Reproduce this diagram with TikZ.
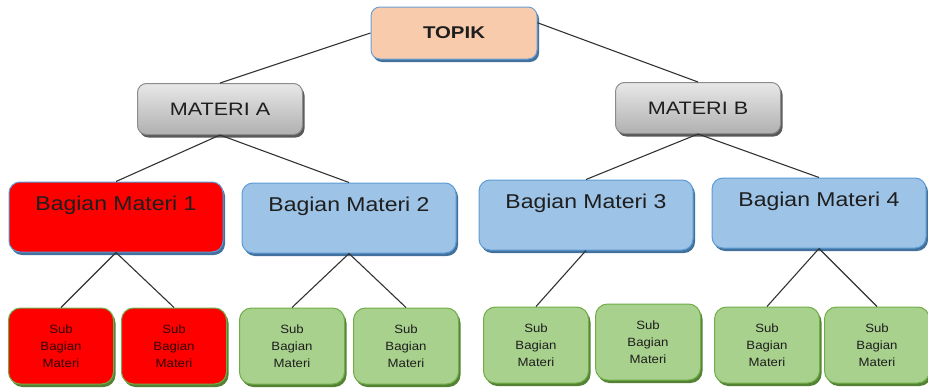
\documentclass[tikz,border=0pt]{standalone}
\usepackage{fontspec}
\setmainfont{Liberation Sans}
\usetikzlibrary{shadows}
\definecolor{topikfill}{HTML}{F8CBAD}
\definecolor{topikline}{HTML}{6E9FD3}
\definecolor{grayline}{HTML}{8C8C8C}
\definecolor{bluefill}{HTML}{9DC3E6}
\definecolor{blueline}{HTML}{5B9BD5}
\definecolor{blueshadow}{HTML}{41719C}
\definecolor{greenfill}{HTML}{A9D18E}
\definecolor{greenline}{HTML}{70AD47}
\definecolor{greenshadow}{HTML}{548235}
\definecolor{redfill}{HTML}{FF0000}
\definecolor{txt}{HTML}{1E1E1E}
\newcommand{\hs}[2][1.15]{\scalebox{#1}[1]{#2}}
\begin{document}
\begin{tikzpicture}[x=1pt,y=-1pt,
  box/.style={rectangle, rounded corners=9pt, line width=1pt, inner sep=0pt, text=txt},
  topbox/.style={box, fill=topikfill, draw=topikline, minimum width=166pt, minimum height=52pt,
     general shadow={shadow xshift=2pt, shadow yshift=-3pt, fill=blueshadow},
     font=\fontsize{17}{20}\selectfont\bfseries},
  matbox/.style={box, top color=gray!18, bottom color=gray!62, draw=grayline, minimum width=165pt, minimum height=51pt,
     general shadow={shadow xshift=2pt, shadow yshift=-3pt, fill=gray!70!black},
     font=\fontsize{18}{20}\selectfont},
  bagbox/.style={box, rounded corners=11pt, fill=bluefill, draw=blueline, minimum width=214pt, minimum height=70pt,
     text height=28pt, text depth=42pt,
     general shadow={shadow xshift=2pt, shadow yshift=-3pt, fill=blueshadow},
     font=\fontsize{20}{22}\selectfont},
  subbox/.style={box, rounded corners=12pt, fill=greenfill, draw=greenline, minimum width=105pt, minimum height=76pt,
     align=center,
     general shadow={shadow xshift=2pt, shadow yshift=-3pt, fill=greenshadow},
     font=\fontsize{12}{17}\selectfont},
  redbag/.style={fill=redfill},
  redsub/.style={fill=redfill, text=black!80!red},
  link/.style={draw=black!80, line width=1.1pt}
]
\useasboundingbox (0,0) rectangle (928,391);
% level 0
\node[topbox] (topik) at (454,33) {\hs[1.2]{TOPIK}};
% level 1
\node[matbox] (ma) at (220,109) {\hs[1.2]{MATERI A}\hspace{10pt}};
\node[matbox] (mb) at (698,108) {\hs[1.2]{MATERI B}\hspace{10pt}};
% level 2
\node[bagbox, redbag] (b1) at (116,217) {\hs{Bagian Materi 1}};
\node[bagbox] (b2) at (349,218) {\hs{Bagian Materi 2}};
\node[bagbox] (b3) at (586,215) {\hs{Bagian Materi 3}};
\node[bagbox] (b4) at (819,213) {\hs{Bagian Materi 4}};
% level 3
\node[subbox, redsub] (s1) at (61,346) {\hs[1.1]{Sub}\\\hs[1.1]{Bagian}\\\hs[1.1]{Materi}};
\node[subbox, redsub] (s2) at (174,346) {\hs[1.1]{Sub}\\\hs[1.1]{Bagian}\\\hs[1.1]{Materi}};
\node[subbox] (s3) at (292,346) {\hs[1.1]{Sub}\\\hs[1.1]{Bagian}\\\hs[1.1]{Materi}};
\node[subbox] (s4) at (406,346) {\hs[1.1]{Sub}\\\hs[1.1]{Bagian}\\\hs[1.1]{Materi}};
\node[subbox] (s5) at (536,345) {\hs[1.1]{Sub}\\\hs[1.1]{Bagian}\\\hs[1.1]{Materi}};
\node[subbox] (s6) at (648,342) {\hs[1.1]{Sub}\\\hs[1.1]{Bagian}\\\hs[1.1]{Materi}};
\node[subbox] (s7) at (767,345) {\hs[1.1]{Sub}\\\hs[1.1]{Bagian}\\\hs[1.1]{Materi}};
\node[subbox] (s8) at (877,345) {\hs[1.1]{Sub}\\\hs[1.1]{Bagian}\\\hs[1.1]{Materi}};
% connectors
\path[link] (topik.west) -- (ma.north);
\path[link] (topik.7) -- (mb.north);
\path[link] (ma.south) -- (b1.north);
\path[link] (ma.south) -- (b2.north);
\path[link] (mb.south) -- (b3.north);
\path[link] (mb.south) -- (b4.north);
\path[link] (b1.south) -- (s1.north);
\path[link] (b1.south) -- (s2.north);
\path[link] (b2.south) -- (s3.north);
\path[link] (b2.south) -- (s4.north);
\path[link] (b3.south) -- (s5.north);
\path[link] (b4.south) -- (s7.north);
\path[link] (b4.south) -- (s8.north);
\end{tikzpicture}
\end{document}
